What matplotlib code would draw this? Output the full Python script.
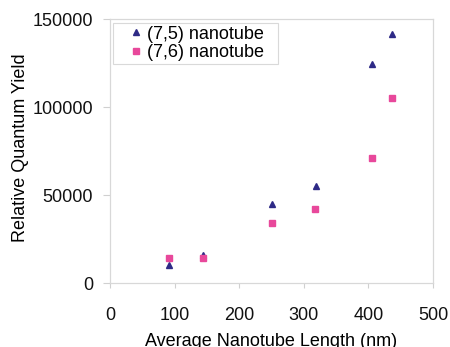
import matplotlib
matplotlib.use("Agg")
import matplotlib.pyplot as plt
from matplotlib.path import Path

plt.rcParams['font.family'] = ['Liberation Sans', 'DejaVu Sans']

length_75 = [91, 144, 251, 319, 406, 437]
yield_75 = [10000, 15700, 44900, 55300, 124400, 141700]
length_76 = [91, 144, 250, 318, 406, 437]
yield_76 = [14000, 14400, 34300, 42200, 71200, 105100]
xticks = [0, 100, 200, 300, 400, 500]
yticks = [0, 50000, 100000, 150000]

FS = 13

fig = plt.figure(figsize=(4.5, 3.47), dpi=100)
ax = fig.add_axes([110 / 450, 1 - 283 / 347, 323 / 450, 264 / 347])

ax.plot(length_75, yield_75, linestyle='none', marker='^', color='#2E2A86',
        markersize=5, label='(7,5) nanotube')
ax.plot(length_76, yield_76, linestyle='none', marker='s', color='#E8489B',
        markersize=4.3, label='(7,6) nanotube')

ax.set_xlim(0, 500)
ax.set_ylim(0, 150000)
ax.set_xticks(xticks)
ax.set_yticks(yticks)
ax.tick_params(axis='both', labelsize=FS, color='#D0D0D0', direction='out',
               labelcolor='#111111', width=0.8)
ax.tick_params(axis='x', length=3.6, pad=13.5)
ax.tick_params(axis='y', length=5, pad=7.2)
for s in ax.spines.values():
    s.set_color('#D8D8D8')
    s.set_linewidth(0.9)

ax.set_xlabel('Average Nanotube Length (nm)', fontsize=FS, labelpad=6.8)
ax.set_ylabel('Relative Quantum Yield', fontsize=FS)
ax.yaxis.set_label_coords(-0.252, 0.511)

leg = ax.legend(loc='upper left', bbox_to_anchor=(0.0443, 0.985), fontsize=FS,
                frameon=True, fancybox=False, edgecolor='#D0D0D0',
                handlelength=1.0, handletextpad=0.11, borderpad=0.15,
                labelspacing=0.1, borderaxespad=0)
leg.get_frame().set_linewidth(0.8)


def hpad_box(x0, y0, width, height, mutation_size):
    p = 0.64 * mutation_size
    verts = [(x0 - p, y0), (x0 + width + p, y0), (x0 + width + p, y0 + height),
             (x0 - p, y0 + height), (x0 - p, y0)]
    codes = [Path.MOVETO, Path.LINETO, Path.LINETO, Path.LINETO, Path.CLOSEPOLY]
    return Path(verts, codes)


leg.get_frame().set_boxstyle(hpad_box)

fig.savefig('out.png', dpi=100)
